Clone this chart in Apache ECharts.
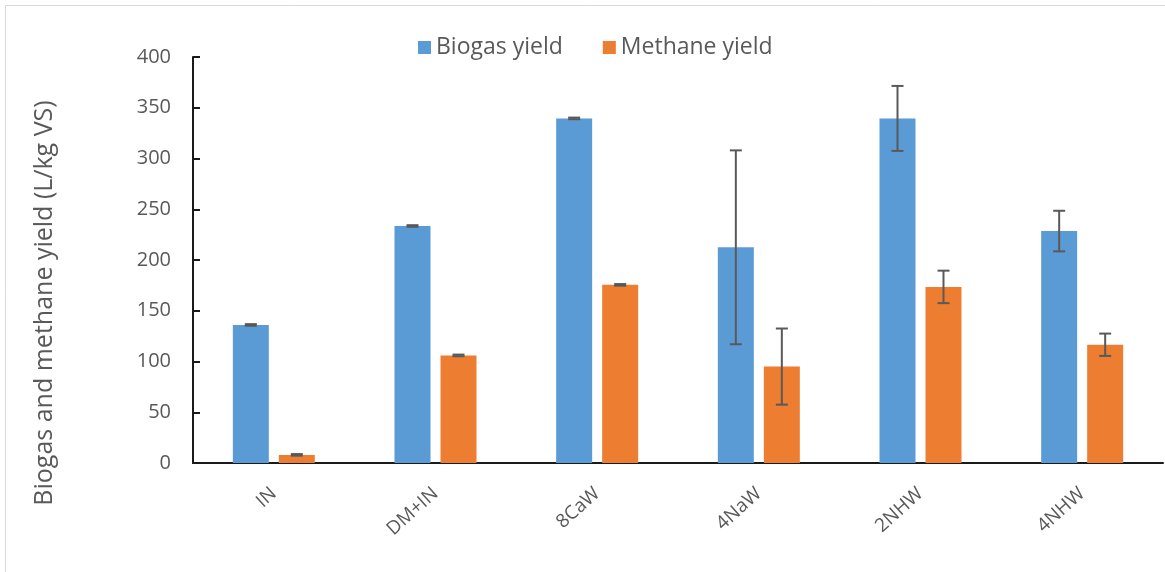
<!DOCTYPE html>
<html>
<head>
<meta charset="utf-8">
<script src="https://cdn.jsdelivr.net/npm/echarts@6/dist/echarts.min.js"></script>
<style>
  html, body { margin: 0; padding: 0; background: #fff; }
  #chart { width: 1165px; height: 572px; }
</style>
</head>
<body>
<div id="chart"></div>
<script>
// Pretreatment groups
const categories = ['IN', 'DM+IN', '8CaW', '4NaW', '2NHW', '4NHW'];
// Mean yields (L/kg VS)
const biogasYield = [136, 233.5, 339.5, 212.5, 339.5, 228.5];
const methaneYield = [8, 106, 175.5, 95, 173.5, 116.5];
// Standard deviations (L/kg VS)
const biogasSD = [0.8, 0.8, 0.8, 95.5, 32, 20];
const methaneSD = [0.8, 0.8, 0.8, 37.5, 16, 11];
const yTicks = [0, 50, 100, 150, 200, 250, 300, 350, 400];

const FONT = '"Open Sans", "Noto Sans", sans-serif';
const TEXT = '#595959';
const BAR_W = 36;
const BAR_GAP = 10;

function errorSeries(name, means, sds, sideSign) {
  return {
    type: 'custom',
    name: name + ' error',
    silent: true,
    z: 10,
    data: means.map((m, i) => [i, m - sds[i], m + sds[i]]),
    renderItem: function (params, api) {
      const idx = api.value(0);
      const lo = api.coord([idx, api.value(1)]);
      const hi = api.coord([idx, api.value(2)]);
      const x = lo[0] + sideSign * (BAR_W + BAR_GAP) / 2;
      const cap = 6;
      const style = { stroke: '#595959', lineWidth: 2, fill: null };
      return {
        type: 'group',
        children: [
          { type: 'line', shape: { x1: x, y1: hi[1], x2: x, y2: lo[1] }, style: style },
          { type: 'line', shape: { x1: x - cap, y1: hi[1], x2: x + cap, y2: hi[1] }, style: style },
          { type: 'line', shape: { x1: x - cap, y1: lo[1], x2: x + cap, y2: lo[1] }, style: style }
        ]
      };
    }
  };
}

const chart = echarts.init(document.getElementById('chart'), null, { renderer: 'canvas' });
chart.setOption({
  backgroundColor: '#ffffff',
  animation: false,
  grid: { left: 193, right: 2, top: 57, bottom: 109, containLabel: false },
  legend: {
    data: ['Biogas yield', 'Methane yield'],
    top: 31,
    left: 413,
    itemWidth: 13,
    itemHeight: 13,
    itemGap: 40,
    icon: 'rect',
    textStyle: { color: TEXT, fontSize: 23, fontFamily: FONT }
  },
  graphic: [
    {
      type: 'rect',
      shape: { x: 5.5, y: 5.5, width: 1180, height: 590 },
      style: { fill: null, stroke: '#d9d9d9', lineWidth: 1 },
      silent: true
    },
    {
      type: 'text',
      x: 45,
      y: 303,
      rotation: Math.PI / 2,
      style: {
        text: 'Biogas and methane yield (L/kg VS)',
        fill: TEXT,
        font: '25px ' + FONT,
        textAlign: 'center',
        textVerticalAlign: 'middle'
      },
      silent: true
    }
  ],
  xAxis: {
    type: 'category',
    data: categories,
    axisLine: { lineStyle: { color: '#1a1a1a', width: 2 } },
    axisTick: { show: false },
    axisLabel: {
      rotate: 42,
      margin: 28,
      color: TEXT,
      fontSize: 19,
      fontFamily: FONT
    },
    splitLine: { show: false }
  },
  yAxis: {
    type: 'value',
    min: yTicks[0],
    max: yTicks[yTicks.length - 1],
    interval: yTicks[1] - yTicks[0],
    axisLine: { show: true, lineStyle: { color: '#1a1a1a', width: 2 } },
    axisTick: { show: true, inside: true, length: 7, lineStyle: { color: '#1a1a1a', width: 2 } },
    axisLabel: { color: TEXT, fontSize: 20, fontFamily: FONT, margin: 22 },
    splitLine: { show: false }
  },
  series: [
    {
      name: 'Biogas yield',
      type: 'bar',
      data: biogasYield,
      barWidth: BAR_W,
      barGap: (BAR_GAP / BAR_W * 100) + '%',
      itemStyle: { color: '#5B9BD5' }
    },
    {
      name: 'Methane yield',
      type: 'bar',
      data: methaneYield,
      barWidth: BAR_W,
      barGap: (BAR_GAP / BAR_W * 100) + '%',
      itemStyle: { color: '#ED7D31' }
    },
    errorSeries('Biogas yield', biogasYield, biogasSD, -1),
    errorSeries('Methane yield', methaneYield, methaneSD, 1)
  ]
});
</script>
</body>
</html>
